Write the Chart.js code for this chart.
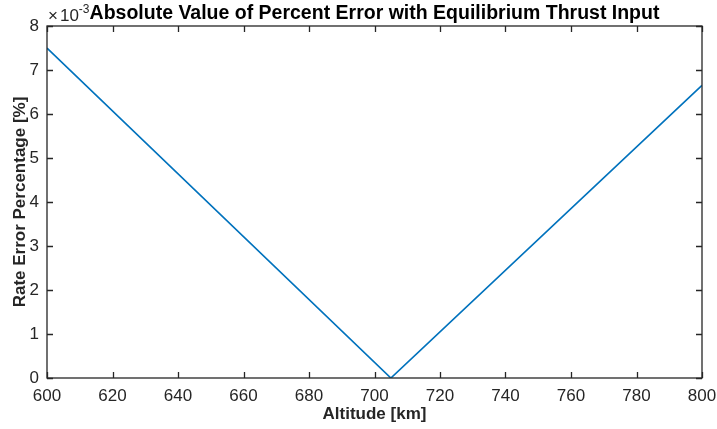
<!DOCTYPE html>
<html>
<head>
<meta charset="utf-8">
<script src="https://cdn.jsdelivr.net/npm/chart.js@4.4.0/dist/chart.umd.min.js"></script>
<style>
  html, body { margin: 0; padding: 0; background: #fff; }
  #wrap { width: 717px; height: 429px; }
</style>
</head>
<body>
<div id="wrap"><canvas id="errChart" width="717" height="429"></canvas></div>
<script>
// data (error values in units of 1e-3 %)
const altitudes = [600, 705, 800];
const rateError = [7.5, 0, 6.65];
const xTicks = [600, 620, 640, 660, 680, 700, 720, 740, 760, 780, 800];
const yTicks = [0, 1, 2, 3, 4, 5, 6, 7, 8];

const titleText = "Absolute Value of Percent Error with Equilibrium Thrust Input";
const axisColor = "#262626";
const FONT = "'Liberation Sans', Arial, Helvetica, sans-serif";

// MATLAB style box + inward ticks + exponent + title
const matlabAxes = {
    id: "matlabAxes",
    afterDraw(chart) {
        const ctx = chart.ctx;
        const a = chart.chartArea;
        const xs = chart.scales.x;
        const ys = chart.scales.y;
        const len = 6;

        ctx.save();
        ctx.strokeStyle = axisColor;
        ctx.lineWidth = 1.3;
        ctx.strokeRect(a.left, a.top, a.right - a.left, a.bottom - a.top);

        ctx.beginPath();
        xTicks.forEach(v => {
            const px = Math.round(xs.getPixelForValue(v)) + 0.5;
            ctx.moveTo(px, a.bottom);
            ctx.lineTo(px, a.bottom - len);
            ctx.moveTo(px, a.top);
            ctx.lineTo(px, a.top + len);
        });
        yTicks.forEach(v => {
            const py = Math.round(ys.getPixelForValue(v)) + 0.5;
            ctx.moveTo(a.left, py);
            ctx.lineTo(a.left + len, py);
            ctx.moveTo(a.right, py);
            ctx.lineTo(a.right - len, py);
        });
        ctx.stroke();

        // exponent label
        ctx.fillStyle = axisColor;
        ctx.textBaseline = "alphabetic";
        ctx.textAlign = "left";
        ctx.font = "17px " + FONT;
        ctx.fillText("\u00d7", a.left + 1, 21);
        const wx = ctx.measureText("\u00d7").width;
        ctx.fillText("10", a.left + 3 + wx, 21);
        const w = ctx.measureText("10").width;
        ctx.font = "12px " + FONT;
        ctx.fillText("-3", a.left + 3 + wx + w, 13);

        // title
        ctx.fillStyle = "#000";
        ctx.textAlign = "center";
        ctx.font = "bold 19.5px " + FONT;
        ctx.fillText(titleText, (a.left + a.right) / 2, 19);
        ctx.restore();
    }
};

new Chart(document.getElementById("errChart"), {
    type: "line",
    data: {
        datasets: [{
            data: altitudes.map((x, i) => ({ x: x, y: rateError[i] })),
            borderColor: "#0072BD",
            borderWidth: 1.7,
            pointRadius: 0,
            tension: 0,
            fill: false
        }]
    },
    options: {
        responsive: false,
        animation: false,
        layout: { padding: { top: 26, left: 0, right: 15, bottom: 0 } },
        plugins: {
            legend: { display: false },
            tooltip: { enabled: false },
            title: { display: false }
        },
        scales: {
            x: {
                type: "linear",
                min: 600,
                max: 800,
                afterBuildTicks: s => { s.ticks = xTicks.map(v => ({ value: v })); },
                afterFit: s => { s.height = 51; s.paddingLeft = 0; s.paddingRight = 0; },
                grid: { display: true, drawOnChartArea: false, drawTicks: false },
                border: { display: false },
                ticks: {
                    color: axisColor,
                    padding: 8,
                    maxRotation: 0,
                    autoSkip: false,
                    font: { family: FONT, size: 17 }
                },
                title: {
                    display: true,
                    text: "Altitude [km]",
                    color: axisColor,
                    padding: { top: 0, bottom: 4 },
                    font: { family: FONT, size: 17, weight: "bold" }
                }
            },
            y: {
                min: 0,
                max: 8,
                afterBuildTicks: s => { s.ticks = yTicks.map(v => ({ value: v })); },
                afterFit: s => { s.width = 47; s.paddingTop = 0; s.paddingBottom = 0; },
                grid: { display: true, drawOnChartArea: false, drawTicks: false },
                border: { display: false },
                ticks: {
                    color: axisColor,
                    padding: 8,
                    autoSkip: false,
                    font: { family: FONT, size: 17 }
                },
                title: {
                    display: true,
                    text: "Rate Error Percentage [%]",
                    color: axisColor,
                    padding: { top: 10, bottom: 0 },
                    font: { family: FONT, size: 17, weight: "bold" }
                }
            }
        }
    },
    plugins: [matlabAxes]
});
</script>
</body>
</html>
